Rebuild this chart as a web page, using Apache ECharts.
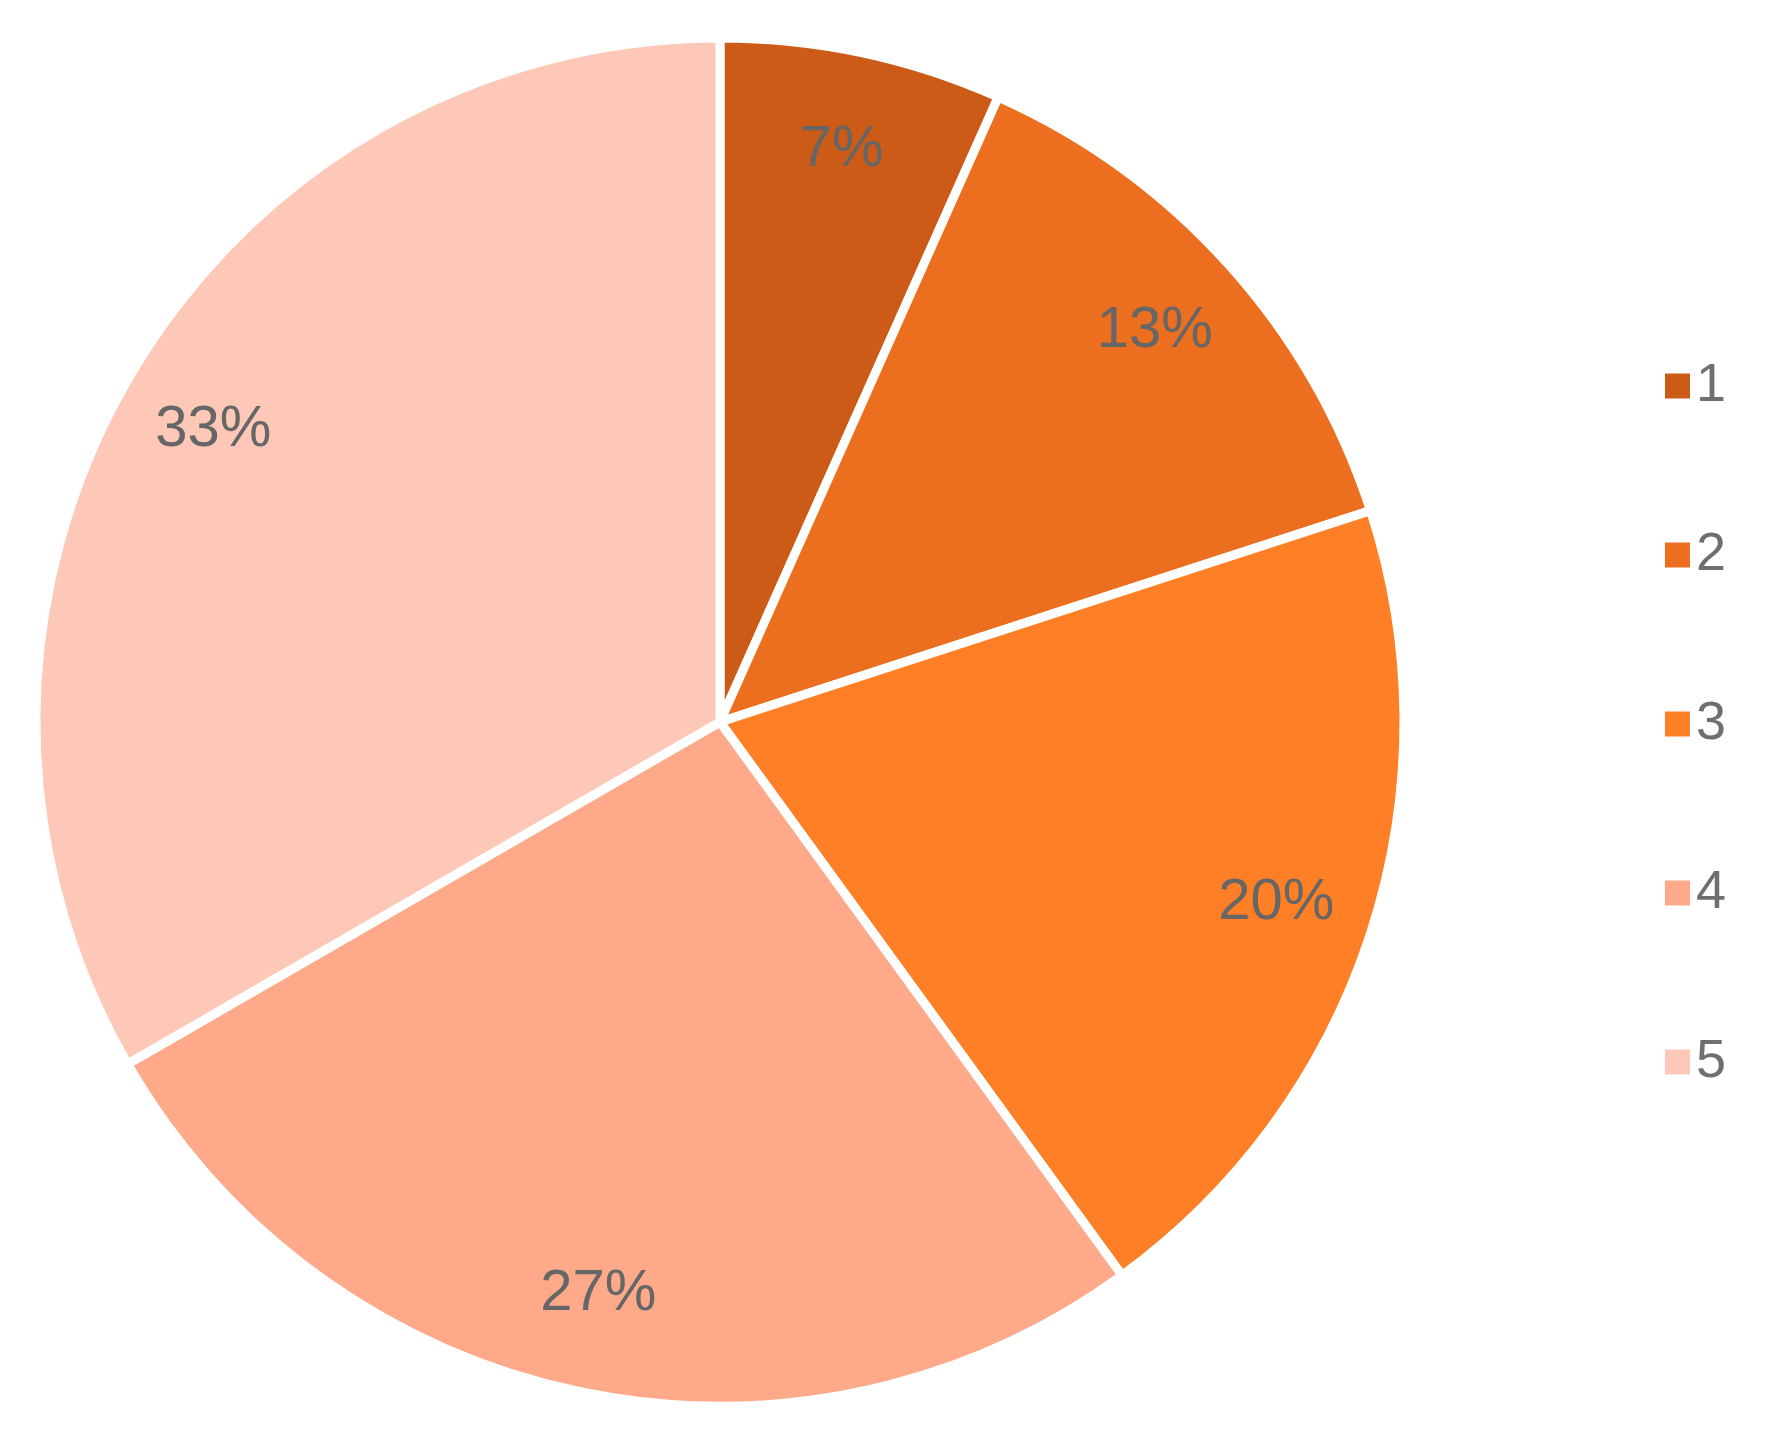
<!DOCTYPE html>
<html><head><meta charset="utf-8">
<script src="https://cdn.jsdelivr.net/npm/echarts@6/dist/echarts.min.js"></script>
<style>html,body{margin:0;padding:0;background:#fff}#c{width:1778px;height:1448px}</style>
</head><body><div id="c"></div>
<script>
const categories = ['1','2','3','4','5'];
const values = [1,2,3,4,5];
const colors = ['#CB5B16','#EB6F1E','#FE7F25','#FDA98A','#FEC8B8'];
const data = categories.map((c,i)=>({name:c,value:values[i],itemStyle:{color:colors[i]}}));
const chart = echarts.init(document.getElementById('c'));
chart.setOption({
  animation:false,
  legend:{orient:'vertical',left:1658,top:'middle',data:categories,itemWidth:27,itemHeight:27,itemGap:115,icon:'rect',
    textStyle:{fontSize:54,color:'#6f6f6f',fontFamily:'Liberation Sans'}},
  series:[
    {type:'pie',center:[720,722],radius:[0,684],startAngle:90,clockwise:true,data:data,
     itemStyle:{borderColor:'#fff',borderWidth:9},label:{show:false},labelLine:{show:false},silent:true},
    {type:'pie',center:[720,722],radius:[480,684],startAngle:90,clockwise:true,silent:true,
     data:categories.map((c,i)=>({name:c,value:values[i],itemStyle:{color:'transparent',borderWidth:0}})),
     label:{show:true,position:'inside',formatter:'{d}%',fontSize:58,color:'#666',fontFamily:'Liberation Sans',
       formatter:p=>Math.round(p.percent)+'%'},labelLine:{show:false}}
  ]
});
</script></body></html>
